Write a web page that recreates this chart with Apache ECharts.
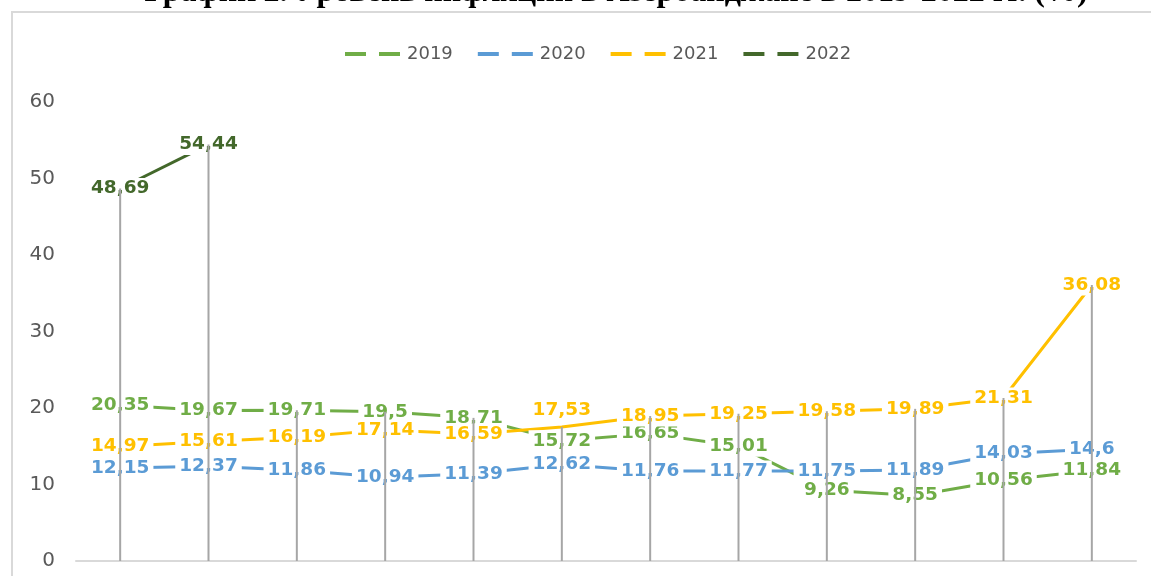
<!DOCTYPE html>
<html>
<head>
<meta charset="utf-8">
<script src="https://cdn.jsdelivr.net/npm/echarts@6/dist/echarts.min.js"></script>
<style>
  html, body { margin: 0; padding: 0; background: #fff; }
  #chart { width: 1151px; height: 576px; }
</style>
</head>
<body>
<div id="chart"></div>
<script>
const months = ['январь', 'февраль', 'март', 'апрель', 'май', 'июнь', 'июль', 'август', 'сентябрь', 'октябрь', 'ноябрь', 'декабрь'];
const yearNames = ['2019', '2020', '2021', '2022'];
const data2019 = [20.35, 19.67, 19.71, 19.5, 18.71, 15.72, 16.65, 15.01, 9.26, 8.55, 10.56, 11.84];
const data2020 = [12.15, 12.37, 11.86, 10.94, 11.39, 12.62, 11.76, 11.77, 11.75, 11.89, 14.03, 14.6];
const data2021 = [14.97, 15.61, 16.19, 17.14, 16.59, 17.53, 18.95, 19.25, 19.58, 19.89, 21.31, 36.08];
const data2022 = [48.69, 54.44, null, null, null, null, null, null, null, null, null, null];
const yTicks = [0, 10, 20, 30, 40, 50, 60];

const colors = ['#70AD47', '#5B9BD5', '#FFC000', '#43682B'];
const allData = [data2019, data2020, data2021, data2022];

// high-low lines go up to the highest value of each month
const highs = months.map((m, i) => Math.max(...allData.map(d => d[i] == null ? 0 : d[i])));

const fmt = v => String(v).replace('.', ',');

const chart = echarts.init(document.getElementById('chart'), null, { renderer: 'canvas' });

const lineSeries = yearNames.map((name, k) => ({
    name: name,
    type: 'line',
    data: allData[k].map((v, i) => {
        // the 17,53 label sits above its point in the original
        if (k === 2 && i === 5) return { value: v, label: { offset: [0, -17] } };
        return v;
    }),
    symbol: 'circle',
    symbolSize: 1,
    showSymbol: true,
    z: 2,
    lineStyle: { width: 3, color: colors[k] },
    itemStyle: { color: 'rgba(0,0,0,0)' },
    label: {
        show: true,
        position: 'inside',
        formatter: p => fmt(p.value),
        color: colors[k],
        fontFamily: 'DejaVu Sans',
        fontWeight: 'bold',
        fontSize: 18.5,
        backgroundColor: '#fff',
        padding: [1, 4]
    }
}));

const option = {
    animation: false,
    color: colors,
    graphic: [
        {
            type: 'rect',
            z: -1,
            shape: { x: 12, y: 12, width: 1200, height: 600 },
            style: { fill: 'none', stroke: '#d9d9d9', lineWidth: 2 }
        },
        {
            type: 'text',
            x: 616,
            y: 9,
            style: {
                text: 'График 2. Уровень инфляции в Азербайджане в 2019-2022 гг. (%)',
                font: 'bold 32px "Liberation Serif"',
                fill: '#000',
                textAlign: 'center',
                textVerticalAlign: 'bottom'
            }
        }
    ],
    legend: {
        data: yearNames.map((n, k) => ({ name: n, itemStyle: { color: colors[k] } })),
        top: 40,
        left: 340,
        itemGap: 25,
        itemWidth: 55,
        itemHeight: 4,
        icon: 'path://M0,0H21V4H0Z M34,0H55V4H34Z',
        textStyle: { color: '#595959', fontSize: 18, fontFamily: 'DejaVu Sans', padding: [0, 0, 0, 2] }
    },
    grid: { left: 76, right: 15, top: 102, bottom: 15 },
    xAxis: {
        type: 'category',
        data: months,
        boundaryGap: true,
        axisLine: { lineStyle: { color: '#d9d9d9', width: 2 } },
        axisTick: { show: false },
        axisLabel: { show: false }
    },
    yAxis: {
        type: 'value',
        min: yTicks[0],
        max: yTicks[yTicks.length - 1],
        interval: 10,
        splitLine: { show: false },
        axisLine: { show: false },
        axisTick: { show: false },
        axisLabel: { color: '#595959', fontSize: 20, fontFamily: 'DejaVu Sans', margin: 21 }
    },
    series: [
        {
            name: 'highs',
            type: 'bar',
            data: highs,
            barWidth: 2,
            silent: true,
            z: 3,
            itemStyle: { color: '#a6a6a6' }
        }
    ].concat(lineSeries)
};

chart.setOption(option);
window.onresize = function () { chart.resize(); };
</script>
</body>
</html>
